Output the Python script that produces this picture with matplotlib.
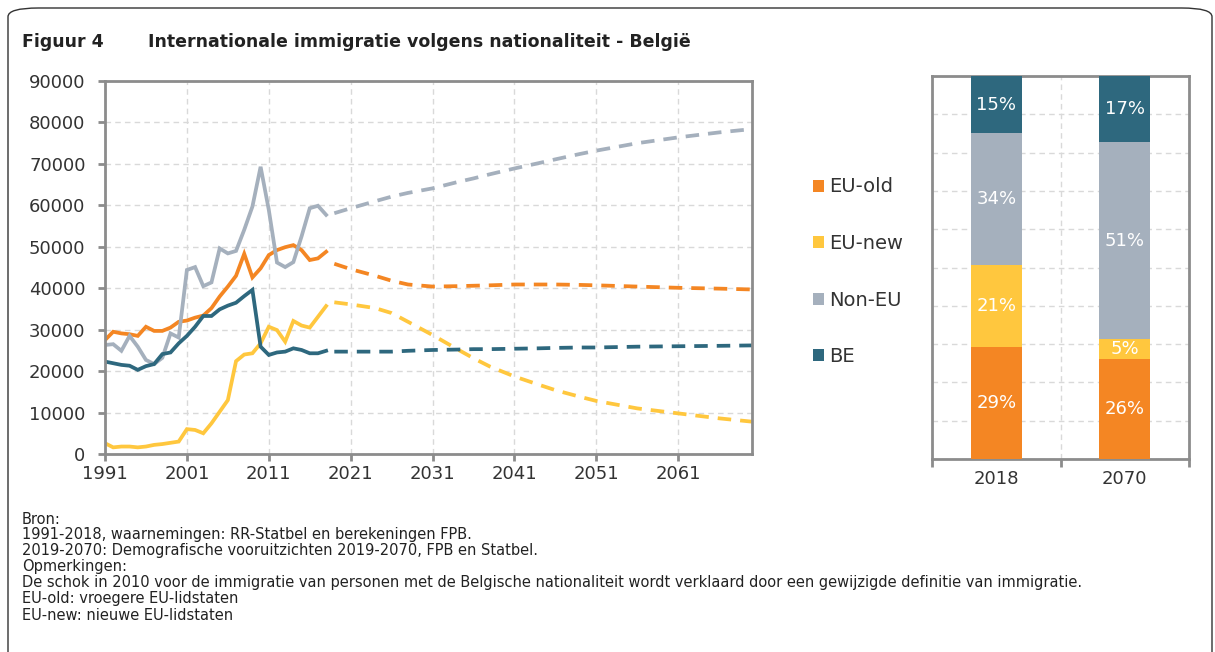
import numpy as np
import matplotlib.pyplot as plt
from matplotlib.patches import FancyBboxPatch, Patch

# observed 1991-2018
years_obs = list(range(1991, 2019))
eu_old_obs = [27500, 29500, 29100, 28900, 28500, 30700, 29700, 29700, 30500, 31900,
              32200, 32900, 33400, 35200, 38000, 40400, 43000, 48300, 42600, 44800,
              48000, 49200, 49900, 50400, 49200, 46800, 47200, 48800]
eu_new_obs = [2600, 1600, 1800, 1800, 1600, 1800, 2200, 2400, 2700, 3000,
              6000, 5800, 5000, 7400, 10200, 13000, 22400, 24000, 24300, 26700,
              30700, 29900, 27100, 32100, 31000, 30500, 33100, 35700]
non_eu_obs = [26300, 26500, 24900, 28500, 25900, 22700, 21700, 23200, 29100, 28100,
              44400, 45100, 40500, 41400, 49600, 48400, 49000, 54100, 59700, 69300,
              58900, 46200, 45100, 46300, 52500, 59300, 59900, 57700]
be_obs = [22300, 21900, 21500, 21300, 20300, 21200, 21700, 24100, 24500, 26700,
          28500, 30700, 33300, 33300, 34900, 35800, 36500, 38100, 39600, 25900,
          23900, 24500, 24700, 25500, 25100, 24300, 24300, 24900]

# projections 2019-2070
years_proj = [2019, 2021, 2024, 2026, 2028, 2031, 2034, 2036, 2038, 2041, 2044, 2046,
              2049, 2051, 2056, 2061, 2066, 2070]
eu_old_proj = [45900, 44600, 43000, 41800, 40900, 40400, 40500, 40600, 40700, 40900,
               40900, 40900, 40800, 40700, 40400, 40100, 39900, 39700]
eu_new_proj = [36600, 36100, 35200, 34000, 31900, 28700, 25300, 23100, 21100, 18700,
               16700, 15400, 13800, 12800, 11000, 9800, 8600, 7800]
non_eu_proj = [58100, 59300, 61000, 62100, 63000, 64100, 65600, 66500, 67500, 68900,
               70200, 71100, 72400, 73200, 75000, 76400, 77600, 78400]
be_proj = [24700, 24700, 24700, 24700, 24900, 25100, 25200, 25300, 25300, 25400,
           25500, 25600, 25700, 25700, 25900, 26000, 26100, 26200]

# shares
bar_years = ['2018', '2070']
share_eu_old = [0.292, 0.261]
share_eu_new = [0.214, 0.052]
share_non_eu = [0.344, 0.514]
share_be = [0.150, 0.173]

series = ['EU-old', 'EU-new', 'Non-EU', 'BE']
colors = ['#F48623', '#FFC73E', '#A5B0BD', '#2E687E']

grid_c = '#D9D9D9'
spine_c = '#8C8C8C'
text_c = '#333333'

fig = plt.figure(figsize=(12.15, 6.52), dpi=100)

# frame round the whole figure
frame = FancyBboxPatch((8 / 1215, -0.05), 1204 / 1215, (652 - 8) / 652 + 0.05,
                       boxstyle='round,pad=0,rounding_size=0.025',
                       transform=fig.transFigure, fill=False, lw=1.0, ec='#333333',
                       mutation_aspect=652 / 1215)
fig.patches.append(frame)

fig.text(22 / 1215, 1 - 42 / 652, 'Figuur 4', fontsize=12.4, fontweight='bold',
         va='center', color='#222222')
fig.text(148 / 1215, 1 - 42 / 652, 'Internationale immigratie volgens nationaliteit - België',
         fontsize=12.5, fontweight='bold', va='center', color='#222222')

# line chart
ax = fig.add_axes([105 / 1215, 1 - 454 / 652, 647 / 1215, 373 / 652])
obs = [eu_old_obs, eu_new_obs, non_eu_obs, be_obs]
proj = [eu_old_proj, eu_new_proj, non_eu_proj, be_proj]
for o, p, c in zip(obs, proj, colors):
    ax.plot(years_obs, o, color=c, lw=2.7, solid_joinstyle='miter')
    ax.plot(years_proj, p, color=c, lw=2.7, ls=(0, (3.6, 2.4)))
ax.set_xlim(1991, 2070)
ax.set_ylim(0, 90000)
ax.set_xticks(range(1991, 2070, 10))
ax.set_yticks(range(0, 90001, 10000))
ax.grid(True, color=grid_c, ls=(0, (4, 3)), lw=1)
ax.set_axisbelow(True)
for s in ax.spines.values():
    s.set_color(spine_c)
    s.set_linewidth(2)
ax.tick_params(colors=spine_c, width=2, length=5, labelsize=13, labelcolor=text_c)
ax.tick_params(axis='y', pad=9)
ax.tick_params(axis='x', pad=3)

# legend
handles = [Patch(facecolor=c, label=s) for s, c in zip(series, colors)]
fig.legend(handles=handles, loc='upper left', bbox_to_anchor=(795 / 1215, 1 - 160 / 652),
           frameon=False, fontsize=14, handlelength=0.58, handleheight=0.58,
           handletextpad=0.28, labelspacing=1.93, labelcolor=text_c)

# stacked bars
bx = fig.add_axes([932 / 1215, 1 - 459 / 652, 257 / 1215, 383 / 652])
x = np.arange(len(bar_years))
bottom = np.zeros(len(bar_years))
for vals, c in zip([share_eu_old, share_eu_new, share_non_eu, share_be], colors):
    bx.bar(x, vals, 0.4, bottom=bottom, color=c, zorder=3)
    for xi, v, b in zip(x, vals, bottom):
        bx.text(xi, b + v / 2, f'{round(v * 100):.0f}%', ha='center', va='center',
                color='white', fontsize=13, zorder=4)
    bottom = bottom + np.array(vals)
bx.set_xlim(-0.5, 1.5)
bx.set_ylim(0, 1)
bx.set_xticks([-0.5, 0.5, 1.5])
bx.set_xticklabels([])
bx.set_xticks(x, minor=True)
bx.set_xticklabels(bar_years, minor=True)
bx.set_yticks(np.arange(0, 1.01, 0.1))
bx.set_yticklabels([])
bx.grid(True, color=grid_c, ls=(0, (4, 3)), lw=1)
bx.set_axisbelow(True)
for s in bx.spines.values():
    s.set_color(spine_c)
    s.set_linewidth(2)
bx.tick_params(axis='y', length=0)
bx.tick_params(axis='x', which='major', colors=spine_c, width=2, length=6)
bx.tick_params(axis='x', which='minor', length=0, labelsize=13, labelcolor=text_c, pad=8)

notes = ['Bron:',
         '1991-2018, waarnemingen: RR-Statbel en berekeningen FPB.',
         '2019-2070: Demografische vooruitzichten 2019-2070, FPB en Statbel.',
         'Opmerkingen:',
         'De schok in 2010 voor de immigratie van personen met de Belgische nationaliteit '
         'wordt verklaard door een gewijzigde definitie van immigratie.',
         'EU-old: vroegere EU-lidstaten',
         'EU-new: nieuwe EU-lidstaten']
for i, line in enumerate(notes):
    fig.text(22 / 1215, 1 - (519 + 16 * i) / 652, line, fontsize=10.5, va='center',
             color='#222222')

fig.savefig('out.png', dpi=100)
